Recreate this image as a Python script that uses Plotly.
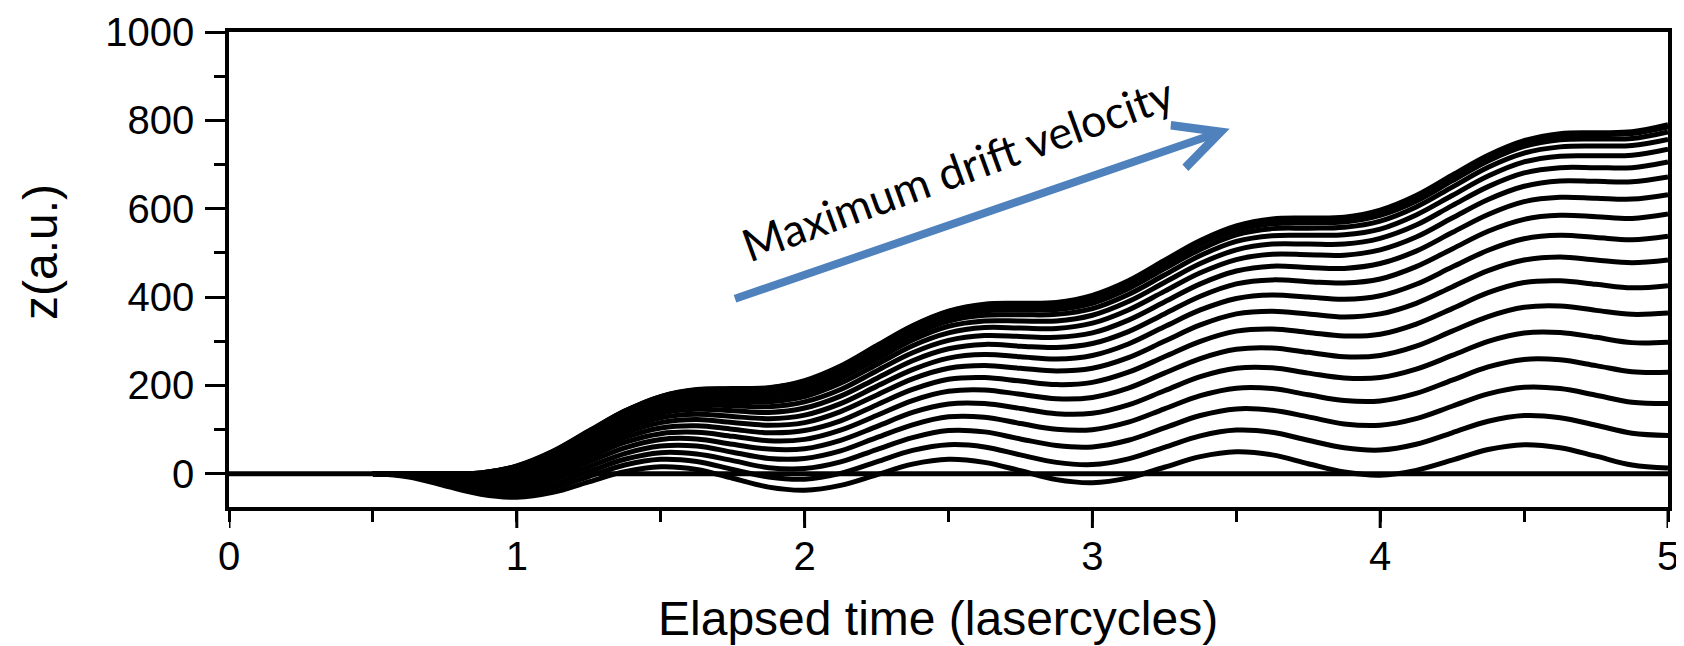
import plotly.graph_objects as go

# time axis (laser cycles)
t = [0.5, 0.625, 0.75, 0.875, 1.0, 1.125, 1.25, 1.375, 1.5,
     1.625, 1.75, 1.875, 2.0, 2.125, 2.25, 2.375, 2.5,
     2.625, 2.75, 2.875, 3.0, 3.125, 3.25, 3.375, 3.5,
     3.625, 3.75, 3.875, 4.0, 4.125, 4.25, 4.375, 4.5,
     4.625, 4.75, 4.875, 5.0]

# z(a.u.) trajectories, lowest drift to maximum drift
z01 = [0, -7, -27, -46, -53, -42, -18, 5, 16, 10, -10, -30, -37, -26, -2, 22, 33, 26, 7, -13, -20, -9, 15, 39, 50, 43, 23, 4, -3, 8, 31, 55, 66, 59, 40, 20, 13]
z02 = [0, -5, -23, -40, -45, -32, -6, 20, 33, 28, 10, -7, -12, 1, 27, 53, 66, 61, 43, 26, 21, 34, 60, 86, 99, 94, 76, 59, 54, 67, 93, 119, 132, 127, 110, 92, 87]
z03 = [0, -4, -19, -35, -38, -23, 5, 33, 48, 45, 30, 14, 12, 27, 55, 82, 98, 95, 79, 64, 61, 76, 104, 132, 147, 144, 129, 113, 110, 125, 153, 181, 196, 193, 178, 162, 159]
z04 = [0, -3, -16, -30, -31, -13, 16, 46, 63, 63, 49, 35, 35, 52, 82, 111, 129, 128, 114, 101, 100, 117, 147, 177, 194, 193, 179, 166, 165, 182, 212, 242, 259, 258, 245, 231, 230]
z05 = [0, -2, -13, -25, -24, -5, 27, 59, 78, 79, 67, 56, 57, 76, 107, 139, 158, 159, 148, 136, 137, 156, 188, 220, 239, 240, 228, 217, 218, 237, 268, 300, 319, 320, 309, 297, 298]
z06 = [0, -1, -11, -21, -18, 3, 37, 71, 91, 94, 85, 75, 78, 99, 132, 166, 187, 190, 180, 170, 173, 194, 228, 261, 282, 285, 275, 265, 268, 289, 323, 356, 377, 380, 370, 361, 364]
z07 = [0, 0, -8, -16, -12, 11, 46, 82, 104, 109, 101, 93, 98, 120, 156, 191, 214, 218, 210, 202, 207, 230, 265, 300, 323, 328, 320, 312, 316, 339, 374, 410, 433, 437, 429, 421, 426]
z08 = [0, 0, -6, -13, -7, 18, 55, 92, 116, 123, 116, 110, 116, 141, 178, 215, 239, 245, 239, 233, 239, 263, 300, 337, 362, 368, 362, 355, 362, 386, 423, 460, 484, 491, 484, 478, 484]
z09 = [0, 0, -5, -10, -2, 24, 63, 101, 127, 135, 130, 125, 133, 159, 198, 236, 262, 270, 265, 260, 268, 294, 333, 371, 397, 405, 400, 395, 403, 429, 468, 506, 532, 540, 535, 530, 538]
z10 = [0, 0, -3, -7, 2, 30, 70, 110, 137, 146, 143, 139, 149, 176, 216, 256, 283, 293, 289, 286, 295, 322, 362, 402, 430, 439, 435, 432, 441, 469, 509, 549, 576, 585, 582, 578, 588]
z11 = [0, 0, -2, -5, 6, 35, 76, 117, 146, 156, 154, 152, 163, 191, 233, 274, 302, 313, 311, 309, 319, 348, 389, 430, 459, 470, 467, 465, 476, 504, 546, 587, 616, 626, 624, 622, 632]
z12 = [0, 0, -2, -3, 9, 39, 81, 124, 154, 165, 164, 163, 175, 205, 247, 290, 319, 331, 330, 329, 341, 371, 413, 455, 485, 497, 496, 495, 507, 536, 579, 621, 651, 663, 662, 661, 672]
z13 = [0, 0, -1, -1, 12, 42, 86, 129, 160, 173, 173, 173, 185, 216, 259, 303, 334, 346, 346, 346, 359, 390, 433, 476, 507, 520, 520, 520, 533, 563, 607, 650, 681, 693, 693, 693, 706]
z14 = [0, 0, 0, 0, 14, 45, 90, 134, 165, 179, 180, 181, 194, 226, 270, 314, 346, 359, 360, 361, 374, 406, 450, 494, 526, 539, 540, 541, 554, 586, 630, 674, 706, 719, 720, 721, 735]
z15 = [0, 0, 0, 1, 15, 48, 93, 137, 170, 184, 185, 187, 201, 233, 278, 323, 355, 369, 371, 372, 386, 419, 464, 508, 541, 555, 556, 558, 572, 604, 649, 694, 726, 740, 742, 743, 757]
z16 = [0, 0, 0, 2, 17, 49, 95, 140, 173, 187, 189, 191, 206, 239, 284, 329, 362, 377, 379, 381, 395, 428, 473, 519, 551, 566, 568, 570, 585, 617, 663, 708, 741, 756, 758, 759, 774]
z17 = [0, 0, 0, 2, 17, 50, 96, 142, 175, 190, 192, 194, 209, 242, 288, 334, 367, 382, 384, 386, 401, 434, 480, 525, 558, 573, 576, 578, 593, 626, 672, 717, 750, 765, 768, 770, 785]
z18 = [0, 0, 0, 2, 18, 51, 97, 142, 175, 191, 193, 195, 211, 244, 290, 335, 368, 384, 386, 388, 404, 437, 483, 528, 561, 577, 579, 581, 597, 630, 676, 721, 754, 770, 772, 774, 790]

trajectories = [z01, z02, z03, z04, z05, z06, z07, z08, z09, z10,
                z11, z12, z13, z14, z15, z16, z17, z18]

# baseline
base_t = [0, 5]
base_z = [0, 0]

x_ticks = [0, 1, 2, 3, 4, 5]
x_minor = [0.5, 1.5, 2.5, 3.5, 4.5]
y_ticks = [0, 200, 400, 600, 800, 1000]
y_minor = [100, 300, 500, 700, 900]

# arrow annotation (data coordinates)
arrow_tail = (1.753, 395)
arrow_head = (3.477, 781)
label_pos = (2.53, 690)
label_text = "Maximum drift velocity"
x_title = "Elapsed time (lasercycles)"
y_title = "z(a.u.)"

PLOT_H = 475  # plot-area height in px

fig = go.Figure()
fig.add_trace(go.Scatter(x=base_t, y=base_z, mode="lines",
                         line=dict(color="black", width=5), hoverinfo="skip"))
for z in trajectories:
    fig.add_trace(go.Scatter(x=t, y=z, mode="lines",
                             line=dict(color="black", width=5, shape="spline", smoothing=1),
                             hoverinfo="skip"))

fig.add_annotation(x=arrow_head[0], y=arrow_head[1], ax=arrow_tail[0], ay=arrow_tail[1],
                   xref="x", yref="y", axref="x", ayref="y", text="",
                   showarrow=True, arrowhead=5, arrowwidth=8, arrowsize=1.1,
                   arrowcolor="#4F81BD", standoff=0, startstandoff=0)
fig.add_annotation(x=label_pos[0], y=label_pos[1], xref="x", yref="y",
                   text=label_text, showarrow=False, textangle=-20,
                   font=dict(family="Lato", size=45, color="black"))

axis_font = dict(family="Liberation Sans, Arial", size=40, color="black")
title_font = dict(family="Liberation Sans, Arial", size=48, color="black")

# axis titles placed as annotations relative to the plot area
fig.add_annotation(x=0.4927, y=-0.2345, xref="paper", yref="paper",
                   text=x_title, showarrow=False, font=title_font,
                   xanchor="center", yanchor="middle")
fig.add_annotation(x=-0.1315, y=0.5365, xref="paper", yref="paper",
                   text=y_title, showarrow=False, font=title_font, textangle=-90,
                   xanchor="center", yanchor="middle")

# longer major ticks on the time axis (labels sit close to the short ticks)
for v in x_ticks:
    fig.add_shape(type="line", xref="x", yref="paper", x0=v, x1=v,
                  y0=0, y1=-21 / PLOT_H, line=dict(color="black", width=3))

# the page body adds an 8 px offset, so margins are compensated
fig.update_layout(
    width=1684, height=646,
    margin=dict(l=221, r=24, t=24, b=147),
    paper_bgcolor="white", plot_bgcolor="white",
    showlegend=False,
    xaxis=dict(range=[0, 5], tickvals=x_ticks, ticktext=[str(v) for v in x_ticks],
               ticks="outside", ticklen=11, tickwidth=3, tickcolor="black",
               showline=True, linewidth=3.5, linecolor="black", mirror=True,
               showgrid=False, zeroline=False, tickfont=axis_font,
               automargin=False,
               minor=dict(tickvals=x_minor, ticks="outside", ticklen=11,
                          tickwidth=3, tickcolor="black", showgrid=False)),
    yaxis=dict(range=[-75, 1000], tickvals=y_ticks, ticktext=[str(v) for v in y_ticks],
               ticks="outside", ticklen=20, tickwidth=3, tickcolor="black",
               showline=True, linewidth=3.5, linecolor="black", mirror=True,
               showgrid=False, zeroline=False, tickfont=axis_font,
               ticklabelstandoff=3, automargin=False,
               minor=dict(tickvals=y_minor, ticks="outside", ticklen=11,
                          tickwidth=3, tickcolor="black", showgrid=False)),
)

fig.write_html("out.html")
